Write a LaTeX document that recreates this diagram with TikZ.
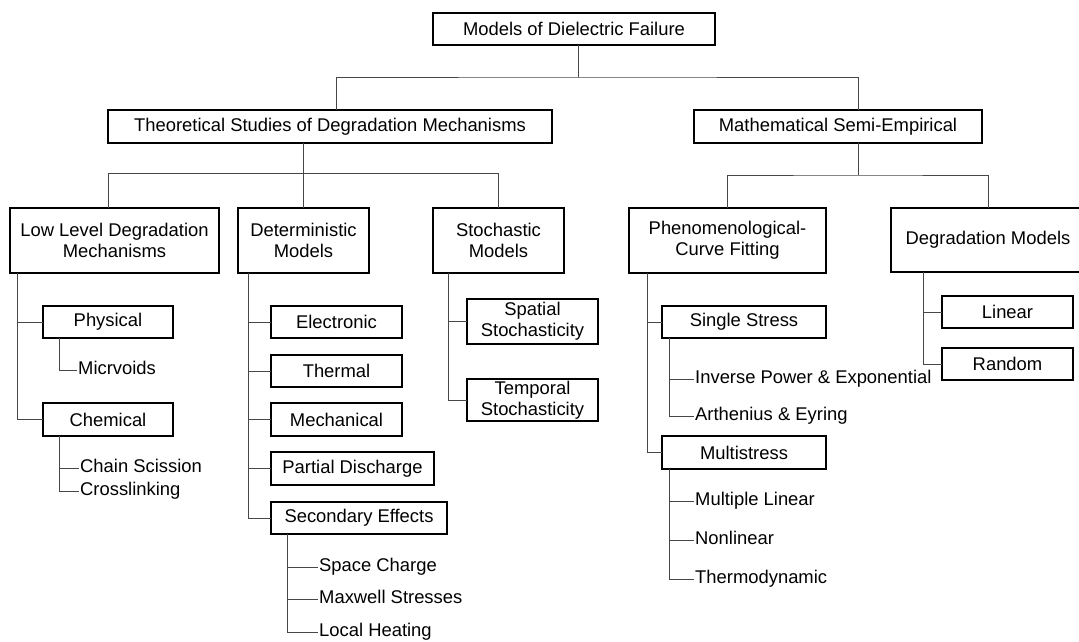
\documentclass[tikz,border=0pt]{standalone}
\usepackage{fontspec}
\setmainfont{Liberation Sans}
\usepackage{tikz}

\begin{document}
\begin{tikzpicture}[x=1pt, y=-1pt,
		every node/.style={font=\fontsize{18.4}{21}\selectfont},
		box/.style={draw=black, line width=1.2pt, align=center, inner sep=0pt, outer sep=0pt},
		leaf/.style={anchor=west, inner sep=1pt, text height=13.2pt, text depth=3.9pt},
		link/.style={line width=0.9pt, color=black!72}]
			%%%%% START %%%%%
			
			\useasboundingbox (0,0) rectangle (1079,641);
			\clip (0,0) rectangle (1079,641);
			
			% top levels
			\node[box, minimum width=282pt, minimum height=32pt] (root) at (574,29) {Models of Dielectric Failure};
			\node[box, minimum width=444pt, minimum height=33pt] (theo) at (330,126.5) {Theoretical Studies of Degradation Mechanisms};
			\node[box, minimum width=288pt, minimum height=33pt] (math) at (838,126.5) {Mathematical Semi-Empirical};
			
			\node[box, minimum width=209pt, minimum height=65pt] (low) at (114.5,240.5) {Low Level Degradation\\Mechanisms};
			\node[box, minimum width=131pt, minimum height=65pt] (det) at (303.5,240.5) {Deterministic\\Models};
			\node[box, minimum width=131pt, minimum height=65pt] (stoch) at (498.5,240.5) {Stochastic\\Models};
			\node[box, minimum width=197pt, minimum height=65pt] (phen) at (727.5,240.5) {Phenomenological-\\Curve Fitting};
			\node[box, minimum width=194pt, minimum height=64pt] (degr) at (988,240) {Degradation Models};
			
			% low level
			\node[box, minimum width=130pt, minimum height=32pt] (phys) at (108,322) {Physical};
			\node[box, minimum width=130pt, minimum height=33pt] (chem) at (108,419.5) {Chemical};
			\node[leaf] (micr) at (77,370) {Micrvoids};
			\node[leaf] (chain) at (79,468) {Chain Scission};
			\node[leaf] (cross) at (79,491) {Crosslinking};
			
			% deterministic
			\node[box, minimum width=131pt, minimum height=32pt] (elec) at (336.5,322) {Electronic};
			\node[box, minimum width=131pt, minimum height=32pt] (therm) at (336.5,371) {Thermal};
			\node[box, minimum width=131pt, minimum height=33pt] (mech) at (336.5,419.5) {Mechanical};
			\node[box, minimum width=163pt, minimum height=33pt] (pd) at (352.5,468.5) {Partial Discharge};
			\node[box, minimum width=176pt, minimum height=32pt] (sec) at (359,518) {Secondary Effects};
			\node[leaf] (space) at (318,567) {Space Charge};
			\node[leaf] (maxw) at (318,599) {Maxwell Stresses};
			\node[leaf] (local) at (318,632) {Local Heating};
			
			% stochastic
			\node[box, minimum width=131pt, minimum height=45pt] (spat) at (532.5,321.5) {Spatial\\Stochasticity};
			\node[box, minimum width=131pt, minimum height=42pt] (temp) at (532.5,400) {Temporal\\Stochasticity};
			
			% phenomenological
			\node[box, minimum width=164pt, minimum height=32pt] (single) at (744,322) {Single Stress};
			\node[box, minimum width=164pt, minimum height=33pt] (multi) at (744,452.5) {Multistress};
			\node[leaf] (inv) at (694,379) {Inverse Power \& Exponential};
			\node[leaf] (arrh) at (694,416) {Arthenius \& Eyring};
			\node[leaf] (mlin) at (694,501) {Multiple Linear};
			\node[leaf] (nonl) at (694,540) {Nonlinear};
			\node[leaf] (thermo) at (694,579) {Thermodynamic};
			
			% degradation models
			\node[box, minimum width=131pt, minimum height=32pt] (lin) at (1007.5,312) {Linear};
			\node[box, minimum width=131pt, minimum height=32pt] (rand) at (1007.5,364) {Random};
			
			% buses
			\draw[link] ([xshift=4pt]root.south) -- ++(0,32) coordinate (topbus);
			\draw[link] ([xshift=6pt]theo.north) |- (topbus) -| ([xshift=20pt]math.north);
			\draw[link] ([xshift=-6pt]low.north) -- ++(0,-35) -| (stoch.north);
			\draw[link] (theo.south -| det.north) -- (det.north);
			\draw[link] ([xshift=20pt]math.south) -- ++(0,32) coordinate (rbus);
			\draw[link] (phen.north) |- (rbus) -| (degr.north);
			
			% side links
			\foreach \n in {phys,chem} \draw[link] ([xshift=7pt]low.south west) |- (\n.west);
			\foreach \n in {elec,therm,mech,pd,sec} \draw[link] ([xshift=10pt]det.south west) |- (\n.west);
			\foreach \n in {spat,temp} \draw[link] ([xshift=15pt]stoch.south west) |- (\n.west);
			\foreach \n in {single,multi} \draw[link] ([xshift=18pt]phen.south west) |- (\n.west);
			\foreach \n in {lin,rand} \draw[link] ([xshift=32pt]degr.south west) |- (\n.west);
			
			\draw[link] ([xshift=16pt]phys.south west) |- (micr.west);
			\foreach \n in {chain,cross} \draw[link] ([xshift=16pt]chem.south west) |- (\n.west);
			\foreach \n in {space,maxw,local} \draw[link] ([xshift=16pt]sec.south west) |- (\n.west);
			\foreach \n in {inv,arrh} \draw[link] ([xshift=7pt]single.south west) |- (\n.west);
			\foreach \n in {mlin,nonl,thermo} \draw[link] ([xshift=7pt]multi.south west) |- (\n.west);
			
			%%%%% END %%%%%
		\end{tikzpicture}
\end{document}
